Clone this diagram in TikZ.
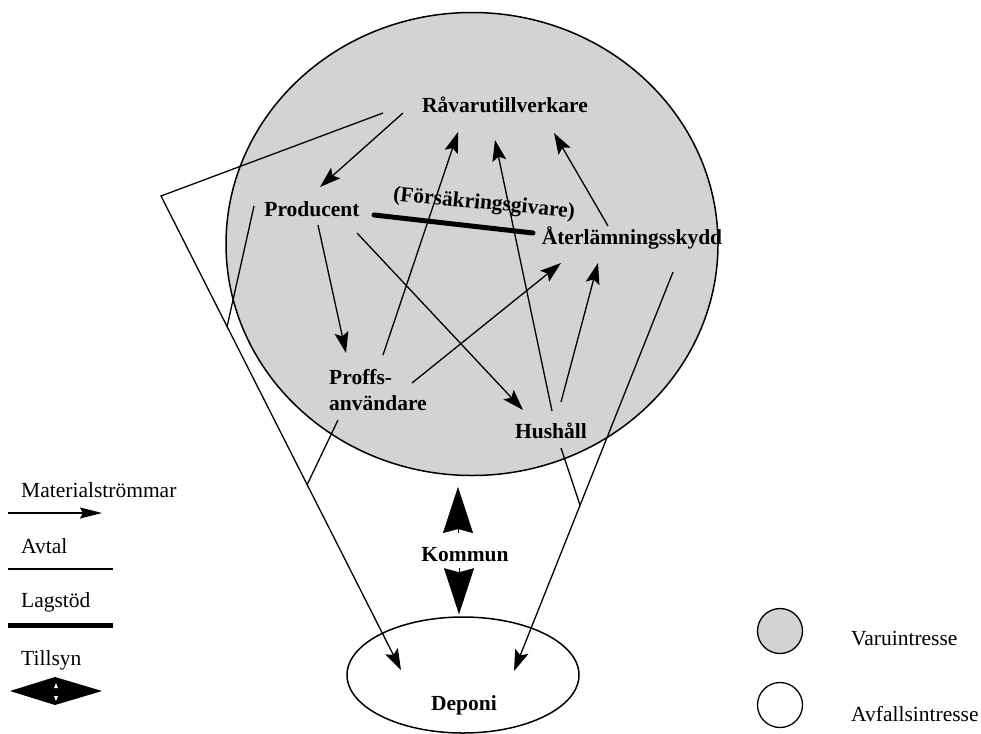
\documentclass[tikz,border=0pt]{standalone}
\usepackage{fontspec}
\setmainfont{Liberation Serif}
\usetikzlibrary{arrows.meta,calc,shapes.geometric}
\definecolor{varugray}{RGB}{211,211,211}
\begin{document}
\begin{tikzpicture}[x=1pt,y=-1pt,
  lab/.style={font=\fontsize{21.5}{26}\selectfont\bfseries, inner sep=0pt, anchor=base},
  leg/.style={font=\fontsize{21.5}{26}\selectfont, inner sep=0pt, anchor=base west},
  flow/.style={line width=1.3pt, -{Stealth[length=21pt,width=14pt,inset=4pt]}},
  legflow/.style={line width=1.3pt, -{Stealth[length=22pt,width=11pt,inset=3pt]}},
  avtal/.style={line width=1.3pt},
  lag/.style={line width=5pt, line cap=round},
  big/.style={line width=0.4pt, -{Stealth[length=46pt,width=30pt,inset=4pt]}},
  area/.style={ellipse, draw, line width=1.5pt, inner sep=0pt},
]
\useasboundingbox (0,0) rectangle (981,733);
\clip (0,0) rectangle (981,733);

% areas
\node[area, fill=varugray, minimum width=492pt, minimum height=463pt] (varu) at (472,244) {};
\node[area, fill=white, minimum width=232pt, minimum height=116pt] (dep) at (463,675) {};

% labels
\node[lab] (rav) at (505,113) {Råvarutillverkare};
\node[lab] (prod) at (312,216) {Producent};
\node[lab] (ater) at (632,244) {Återlämningsskydd};
\node[lab, anchor=center, align=left] (proffs) at (378,390) {Proffs-\\användare};
\node[lab] (hush) at (551,438) {Hushåll};
\node[lab] (kom) at (465,561) {Kommun};
\node[lab] (deptxt) at (464,710) {Deponi};
\node[lab, anchor=center, rotate=-5.5] (forsak) at (484,204) {(Försäkringsgivare)};

% join points
\coordinate (c1) at (161,196);
\coordinate (j1) at (227,327);
\coordinate (j2) at (307,485);
\coordinate (j3) at (580,505);

% material flows
\draw[flow] ($(rav.base)+(-102,0)$) -- ($(prod.base)+(8,-29)$);
\draw[flow] ($(rav.base)+(-122,0)$) -- (c1) -- ($(dep.center)+(-62,-5)$);
\draw[avtal] ($(prod.base)+(-58,-10)$) -- (j1);
\draw[avtal] ($(proffs.center)+(-40,30)$) -- (j2);
\draw[flow] ($(prod.base)+(6,9)$) -- ($(proffs.center)+(-32,-37)$);
\draw[flow] ($(prod.base)+(45,17)$) -- ($(hush.base)+(-28,-28)$);
\draw[flow] ($(proffs.center)+(5,-35)$) -- ($(rav.base)+(-47,19)$);
\draw[flow] ($(proffs.center)+(34,-7)$) -- ($(ater.base)+(-71,19)$);
\draw[flow] ($(hush.base)+(1,-27)$) -- ($(rav.base)+(-10,27)$);
\draw[flow] ($(hush.base)+(10,-36)$) -- ($(ater.base)+(-34,19)$);
\draw[flow] ($(ater.base)+(-24,-18)$) -- ($(rav.base)+(49,20)$);
\draw[flow] ($(ater.base)+(41,28)$) -- ($(dep.center)+(51,-4)$);
\draw[avtal] ($(hush.base)+(10,10)$) -- (j3);

% lagstod
\draw[lag] ($(prod.base)+(62,-1)$) -- ($(ater.base)+(-99,-11)$);

% tillsyn (kommun)
\draw[big] ($(kom.base)+(-7,-28)$) -- ($(kom.base)+(-7,-74)$);
\draw[big] ($(kom.base)+(-6,7)$) -- ($(dep.north)+(-4,-2)$);

% legend left
\node[leg] (l1) at (21,497) {Materialströmmar};
\coordinate (la1) at (8,513);
\coordinate (la2) at (102,513);
\draw[legflow] (la1) -- (la2);
\node[leg] (l2) at (21,553) {Avtal};
\coordinate (lb1) at (8,569);
\coordinate (lb2) at (113,569);
\draw[avtal] (lb1) -- (lb2);
\node[leg] (l3) at (21,607) {Lagstöd};
\coordinate (lc1) at (8,625);
\coordinate (lc2) at (113,625);
\draw[line width=5pt] (lc1) -- (lc2);
\node[leg] (l4) at (21,665) {Tillsyn};
\fill (10,691) -- (55,677) -- (102,691) -- (55,705) -- cycle;
\fill[white] (54,688) -- (56,683) -- (58,688) -- cycle;
\fill[white] (54,696) -- (56,701) -- (58,696) -- cycle;

% legend right
\node[circle, draw, line width=1.3pt, fill=varugray, minimum size=45pt, inner sep=0pt] (lg1) at (780,631) {};
\node[circle, draw, line width=1.3pt, fill=white, minimum size=45pt, inner sep=0pt] (lg2) at (780,705) {};
\node[leg] (lt1) at (851,645) {Varuintresse};
\node[leg] (lt2) at (851,721) {Avfallsintresse};
\end{tikzpicture}
\end{document}
